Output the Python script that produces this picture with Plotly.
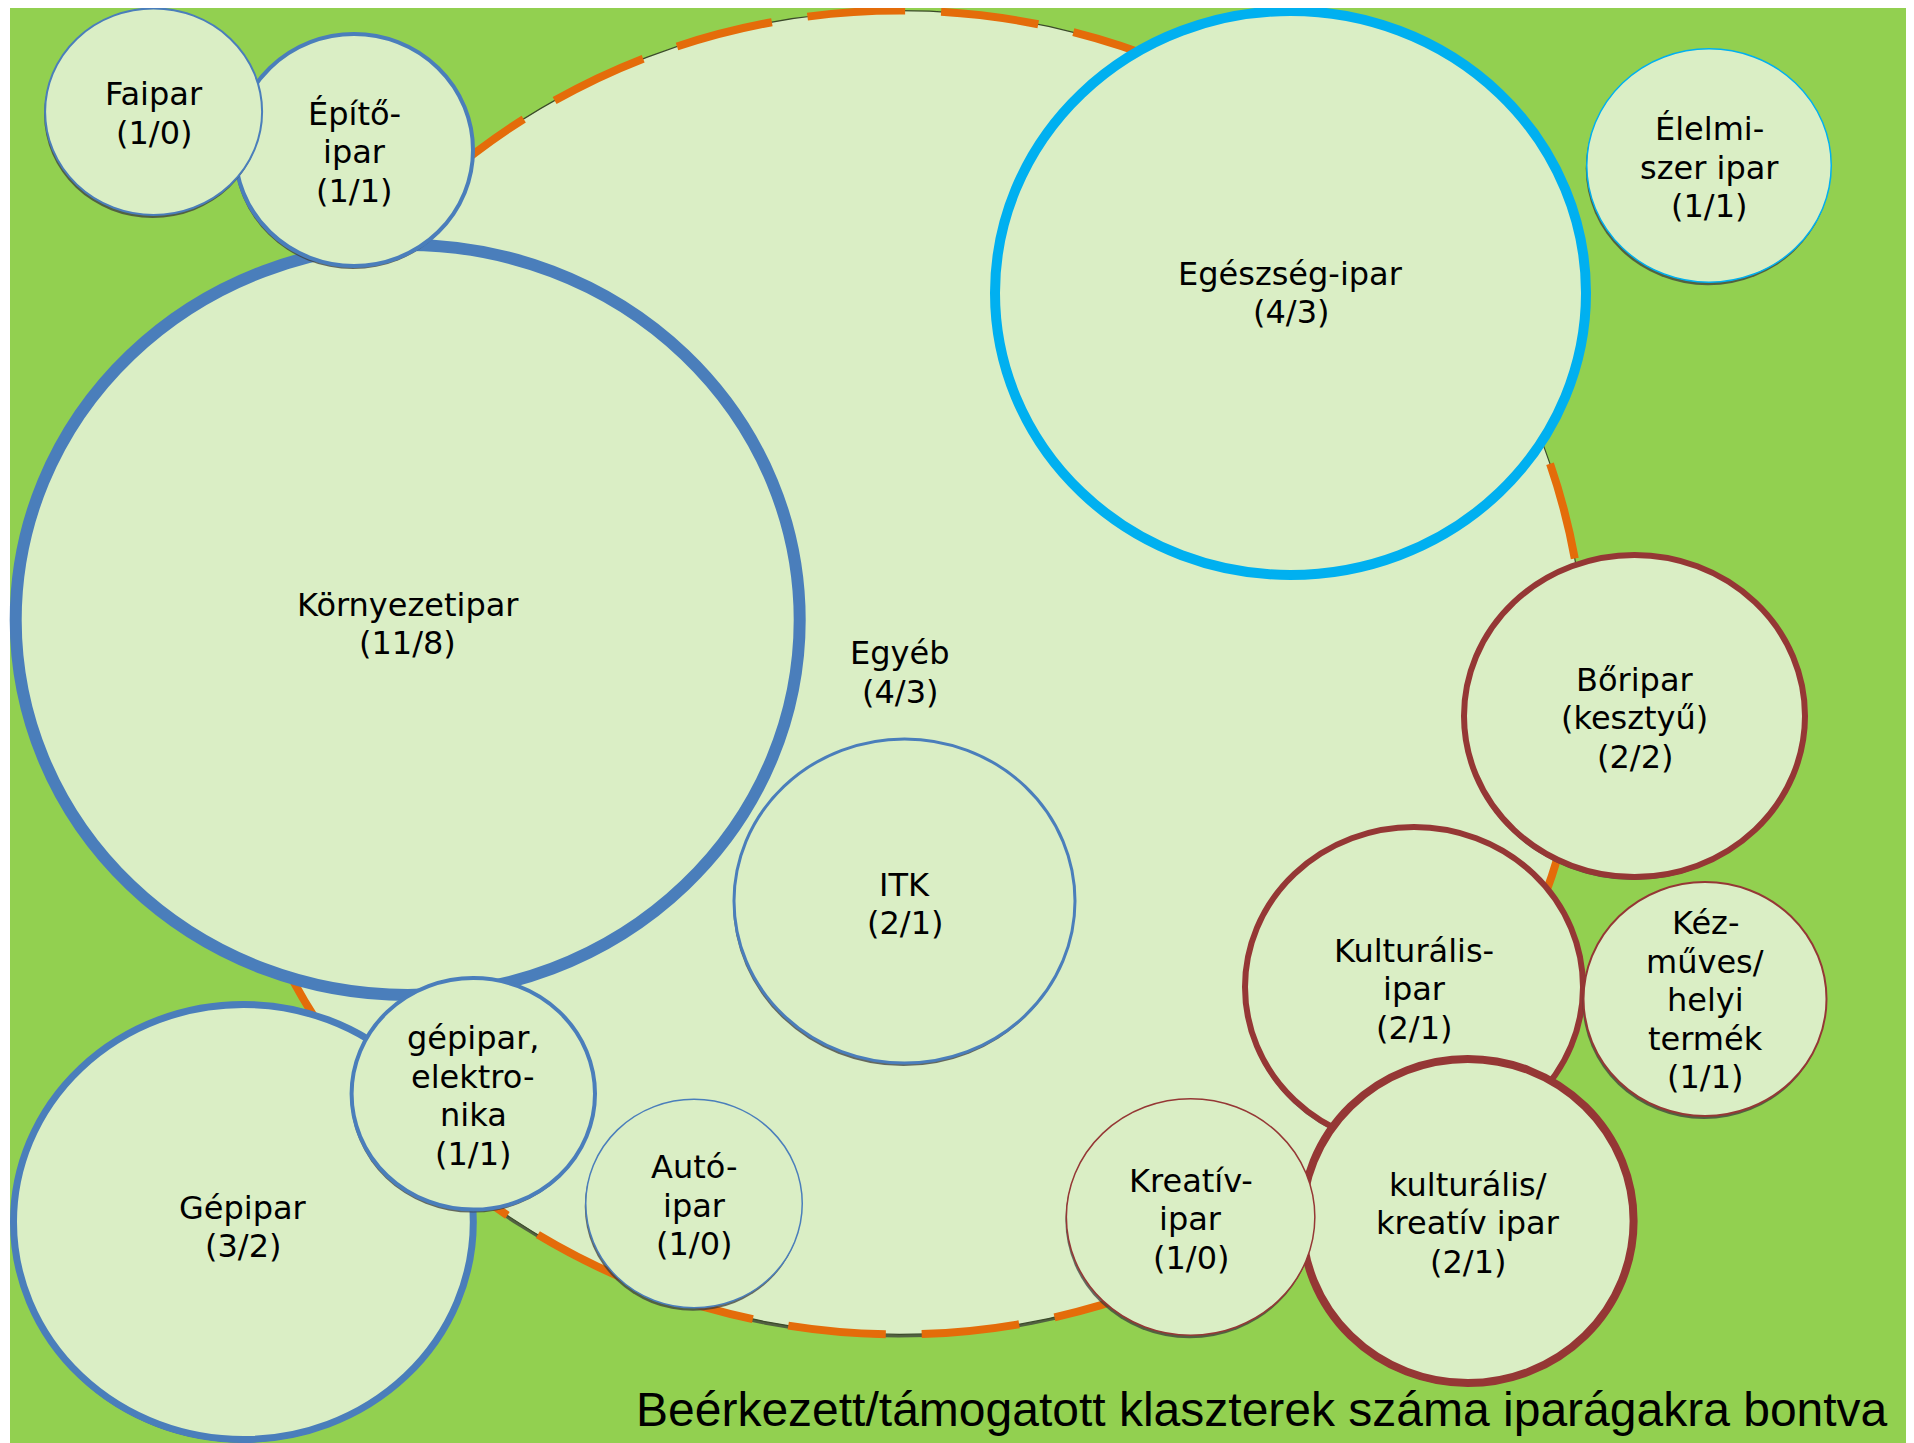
import plotly.graph_objects as go

# ---- data ----
categories = ["Egyéb", "Környezetipar", "Építő-<br>ipar", "Faipar", "Gépipar",
              "gépipar,<br>elektro-<br>nika", "Autó-<br>ipar", "ITK", "Egészség-ipar",
              "Élelmi-<br>szer ipar", "Bőripar<br>(kesztyű)", "Kulturális-<br>ipar",
              "kulturális/<br>kreatív ipar", "Kreatív-<br>ipar", "Kéz-<br>műves/<br>helyi<br>termék"]
received = [4, 11, 1, 1, 3, 1, 1, 2, 4, 1, 2, 2, 2, 1, 1]
supported = [3, 8, 1, 0, 2, 1, 0, 1, 3, 1, 2, 1, 1, 0, 1]
title_text = "Beérkezett/támogatott klaszterek száma iparágakra bontva"

# ---- layout geometry (outer edges, pixels of the canvas) ----
cx = [899.6, 407.7, 354.0, 153.6, 243.4, 473.3, 694.0, 904.5, 1290.5, 1709.0, 1634.5, 1414.0, 1467.8, 1190.6, 1705.0]
cy = [672.5, 620.0, 150.0, 111.7, 1222.0, 1093.8, 1203.6, 901.0, 293.0, 165.5, 716.0, 987.0, 1221.0, 1217.0, 999.0]
rx = [686.0, 398.0, 121.0, 109.5, 233.4, 123.7, 109.0, 172.0, 300.5, 123.0, 173.5, 172.0, 169.8, 125.0, 122.5]
ry = [662.5, 381.0, 118.0, 104.3, 221.0, 117.8, 105.0, 163.6, 287.0, 117.5, 164.0, 163.0, 166.0, 119.0, 118.0]
text_dy = [0, 4, 2, 2, 5, 2, 2, 3, 0, 2, 2, 2, 2, 2, 1]

BLUE = "#4A7EBB"
CYAN = "#00B0F0"
RED = "#953735"
ORANGE = "#E46C0A"
line_colors = ["#3b4a2a", BLUE, BLUE, BLUE, BLUE, BLUE, BLUE, BLUE, CYAN, CYAN, RED, RED, RED, RED, RED]
line_widths = [1.2, 12, 4, 2, 7, 4, 1.5, 3, 10, 1.5, 6, 6, 8, 1.5, 2]

BG = "#92D050"
FILL = "#DAEEC5"
W, H = 1914, 1443
OFF = 8            # page body margin compensation
LINE_H = 38.5      # label line spacing
FONT_SIZE = 32

fig = go.Figure()
fig.add_trace(go.Scatter(x=[OFF, W], y=[OFF, H], mode="markers",
                         marker=dict(opacity=0), hoverinfo="skip", showlegend=False))

shapes = []
shapes.append(dict(type="rect", xref="x", yref="y", x0=10, y0=7, x1=W + OFF, y1=H + OFF,
                   fillcolor=BG, line=dict(width=0), layer="below"))

for i in range(len(categories)):
    lw = line_widths[i]
    a = rx[i] - lw / 2
    b = ry[i] - lw / 2
    shapes.append(dict(type="circle", xref="x", yref="y",
                       x0=cx[i] - a - 1, x1=cx[i] + a - 1,
                       y0=cy[i] - b + 3, y1=cy[i] + b + 3,
                       fillcolor="rgba(60,60,60,0.75)", line=dict(width=0), layer="above"))
    shapes.append(dict(type="circle", xref="x", yref="y",
                       x0=cx[i] - a, x1=cx[i] + a, y0=cy[i] - b, y1=cy[i] + b,
                       fillcolor=FILL, line=dict(color=line_colors[i], width=lw), layer="above"))
    if i == 0:
        shapes.append(dict(type="circle", xref="x", yref="y",
                           x0=cx[i] - a, x1=cx[i] + a, y0=cy[i] - b, y1=cy[i] + b,
                           fillcolor="rgba(0,0,0,0)",
                           line=dict(color=ORANGE, width=8, dash="98px,36px"), layer="above"))

annotations = []
for i in range(len(categories)):
    lines = categories[i].split("<br>") + [f"({received[i]}/{supported[i]})"]
    n = len(lines)
    for k, txt in enumerate(lines):
        annotations.append(dict(x=cx[i], y=cy[i] + text_dy[i] + (k - (n - 1) / 2) * LINE_H,
                                xref="x", yref="y", text=txt,
                                showarrow=False, xanchor="center", yanchor="middle",
                                font=dict(family="DejaVu Sans", size=FONT_SIZE, color="black")))
annotations.append(dict(x=1890, y=1409, xref="x", yref="y", text=title_text,
                        showarrow=False, xanchor="right", yanchor="middle", align="right",
                        font=dict(family="Liberation Sans, Arial", size=48, color="black")))

fig.update_layout(
    width=W, height=H,
    margin=dict(l=0, r=0, t=0, b=0),
    paper_bgcolor="white", plot_bgcolor="white",
    xaxis=dict(range=[OFF, W + OFF], visible=False, fixedrange=True),
    yaxis=dict(range=[H + OFF, OFF], visible=False, fixedrange=True),
    shapes=shapes, annotations=annotations, showlegend=False,
)

fig.write_html("out.html", config={"displayModeBar": False})
